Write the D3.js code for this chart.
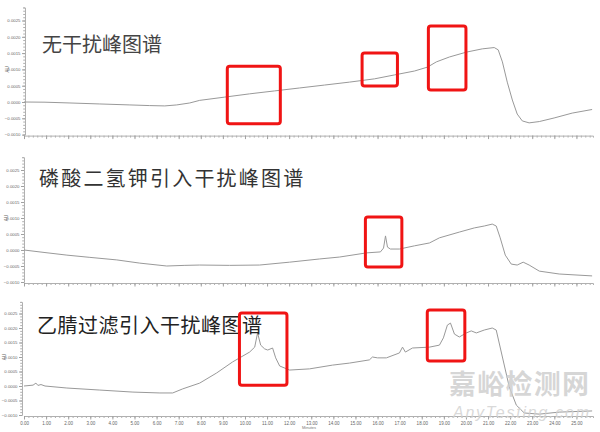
<!DOCTYPE html>
<html><head><meta charset="utf-8">
<script src="https://cdn.jsdelivr.net/npm/d3@7/dist/d3.min.js"></script>
<style>body{margin:0;background:#fff}svg{display:block}</style>
</head><body>
<script>
// ---- data ----
const titles = ["无干扰峰图谱", "磷酸二氢钾引入干扰峰图谱", "乙腈过滤引入干扰峰图谱"];
const xTicks = d3.range(0, 26, 1);
const yTicks = [-0.0010, -0.0005, 0.0000, 0.0005, 0.0010, 0.0015, 0.0020, 0.0025];

const t1 = [0,0.95,2.08,3.43,4.79,5.69,6.37,6.91,7.5,7.95,9.08,10.21,11.34,12.47,13.6,14.73,15.86,16.76,17.67,18.26,18.66,19.25,20.02,20.74,21.28,21.46,21.65,21.87,22.1,22.32,22.55,22.86,23.32,23.99,24.81,25.71];
const v1 = [0,-0.000006,-0.00003,-0.00006,-0.00009,-0.00011,-0.00012,-0.00009,-0.00003,0.00005,0.00015,0.00025,0.00034,0.00043,0.00052,0.00061,0.00071,0.00083,0.00095,0.00107,0.00123,0.00138,0.00153,0.00163,0.00167,0.0016,0.00123,0.00061,0.00006,-0.00037,-0.00058,-0.00064,-0.0006,-0.00049,-0.00034,-0.00023];

const t2 = [0,0.95,1.94,2.98,4.2,5.24,6.46,7.28,7.95,9.3,10.66,12.02,13.38,14.28,15.5,16.13,16.27,16.36,16.45,16.58,16.99,17.67,18.35,18.8,19.7,20.38,20.83,21.19,21.37,21.55,21.78,22.05,22.32,22.59,22.86,23.32,24.22,25.71];
const v2 = [0,-0.00008,-0.00016,-0.00023,-0.00031,-0.00041,-0.0005,-0.00048,-0.00047,-0.00048,-0.00047,-0.00038,-0.00028,-0.00022,-0.00009,-0.00006,0.00006,0.00044,0.00009,0.00003,0.00003,0.00013,0.00022,0.00038,0.00056,0.00069,0.00075,0.00081,0.00075,0.00038,-0.00016,-0.00044,-0.00047,-0.00038,-0.00047,-0.00066,-0.00075,-0.00081];

const t3 = [0,0.41,0.54,0.63,0.77,0.95,1.94,3.43,4.93,6.15,6.73,7.18,7.95,8.72,9.44,10.21,10.44,10.57,10.71,10.89,11.03,11.25,11.39,11.57,12.02,12.92,13.96,14.73,15.63,15.77,16.0,16.4,16.99,17.13,17.26,17.58,18.35,18.8,18.98,19.16,19.3,19.48,19.7,20.02,20.24,20.47,20.83,21.19,21.37,21.65,21.96,22.28,22.64,23.32,24.22,25.71];
const v3 = [0,0.00003,0.0001,0.00002,0.00005,0,-0.00007,-0.00014,-0.00021,-0.00024,-0.00024,-0.0001,0.0001,0.00045,0.00083,0.00117,0.00134,0.00183,0.00141,0.00128,0.00124,0.00131,0.00097,0.00069,0.00055,0.00059,0.00072,0.00079,0.0009,0.001,0.00097,0.00097,0.00114,0.00134,0.00117,0.00131,0.00134,0.00141,0.00166,0.0021,0.00217,0.00179,0.00169,0.00183,0.0019,0.00183,0.00193,0.002,0.00193,0.001,-0.00003,-0.00066,-0.00093,-0.00097,-0.0009,-0.00086];

// highlight boxes: [t0, t1, v0, v1] in data units per panel
const boxes1 = [[9.2,11.6,-0.00067,0.00110],[15.3,16.9,0.00049,0.00150],[18.3,20.0,0.00037,0.00233]];
const boxes2 = [[15.45,17.1,-0.00053,0.00103]];
const boxes3 = [[9.75,11.9,0.00003,0.00252],[18.25,19.95,0.00086,0.00262]];

// ---- layout ----
const W = 600, H = 432;
const svg = d3.select("body").append("svg").attr("width", W).attr("height", H);
const x = d3.scaleLinear().domain([0, 25.75]).range([24, 593]);

const panels = [
  {t:t1, v:v1, boxes:boxes1, zero:102, k:32600, title:titles[0], tx:42, ty:52, fs:20, ls:0, col:"#444", axisX:25, labels:false},
  {t:t2, v:v2, boxes:boxes2, zero:250, k:32000, title:titles[1], tx:39, ty:186, fs:20, ls:2.2, col:"#333", axisX:24, labels:false},
  {t:t3, v:v3, boxes:boxes3, zero:386, k:29000, title:titles[2], tx:37, ty:333, fs:20, ls:0.5, col:"#222", axisX:22, labels:true}
];

panels.forEach(p => {
  const y = d3.scaleLinear().domain([-0.001, 0.0029]).range([p.zero + 0.001*p.k, p.zero - 0.0029*p.k]);
  const g = svg.append("g");
  const yb = y(-0.001) + 1;

  g.append("g").attr("transform", `translate(0,${yb})`)
    .call(d3.axisBottom(x).tickValues(d3.range(0, 25.76, 0.2)).tickSize(2).tickFormat(""))
    .call(a => a.select(".domain").attr("stroke", "#b0b0b0"))
    .call(a => a.selectAll(".tick line").attr("stroke", "#b0b0b0"));
  g.append("g").attr("transform", `translate(0,${yb})`)
    .call(d3.axisBottom(x).tickValues(xTicks).tickSize(3.5).tickPadding(2)
      .tickFormat(p.labels ? d3.format(".2f") : ""))
    .call(a => a.select(".domain").remove())
    .call(a => a.selectAll(".tick line").attr("stroke", "#a0a0a0"))
    .call(a => a.selectAll("text").attr("font-size", 4.5).attr("fill", "#666").attr("font-family", "Arial, Liberation Sans, sans-serif"));

  g.append("g").attr("transform", `translate(${p.axisX},0)`)
    .call(d3.axisLeft(y).tickValues(d3.range(-0.001, 0.00291, 0.0001)).tickSize(1.8).tickFormat(""))
    .call(a => a.select(".domain").attr("stroke", "#b0b0b0"))
    .call(a => a.selectAll(".tick line").attr("stroke", "#b0b0b0"));
  g.append("g").attr("transform", `translate(${p.axisX},0)`)
    .call(d3.axisLeft(y).tickValues(yTicks).tickSize(3).tickPadding(1.5).tickFormat(d3.format(".4f")))
    .call(a => a.select(".domain").remove())
    .call(a => a.selectAll(".tick line").attr("stroke", "#a0a0a0"))
    .call(a => a.selectAll("text").attr("font-size", 4.3).attr("fill", "#666").attr("font-family", "Arial, Liberation Sans, sans-serif"));

  g.append("text").attr("transform", `translate(${p.axisX - 16},${y(0.001)}) rotate(-90)`)
    .attr("text-anchor", "middle").attr("font-size", 4.5).attr("fill", "#666")
    .attr("font-family", "Arial, sans-serif").text("AU");

  const pts = p.t.map((d, i) => [d, p.v[i]]);
  g.append("path").datum(pts)
    .attr("fill", "none").attr("stroke", "#999").attr("stroke-width", 1)
    .attr("stroke-linejoin", "round")
    .attr("d", d3.line().x(d => x(d[0])).y(d => y(d[1])));

  g.append("text").attr("x", p.tx).attr("y", p.ty)
    .attr("font-size", p.fs).attr("fill", p.col).attr("letter-spacing", p.ls)
    .attr("font-family", "'Noto Sans CJK SC', sans-serif").text(p.title);

  g.selectAll("rect.box").data(p.boxes).join("rect").attr("class", "box")
    .attr("x", d => x(d[0])).attr("y", d => y(d[3]))
    .attr("width", d => x(d[1]) - x(d[0])).attr("height", d => y(d[2]) - y(d[3]))
    .attr("rx", 2.5).attr("fill", "none").attr("stroke", "#f01414").attr("stroke-width", 3);

  if (p.labels) {
    g.append("text").attr("x", x(12.9)).attr("y", yb + 13).attr("text-anchor", "middle")
      .attr("font-size", 4).attr("fill", "#777").attr("font-family", "Arial, sans-serif").text("Minutes");
  }
});

// watermark
svg.append("text").attr("x", 449).attr("y", 394).attr("font-size", 27).attr("font-weight", "bold")
  .attr("fill", "#cfcfcf").attr("fill-opacity", 0.85).attr("textLength", 140)
  .attr("font-family", "'Noto Sans CJK SC', sans-serif").text("嘉峪检测网");
svg.append("text").attr("x", 453).attr("y", 418).attr("font-size", 16).attr("font-style", "italic")
  .attr("fill", "#d2d2d2").attr("fill-opacity", 0.85).attr("textLength", 136)
  .attr("font-family", "Arial, Liberation Sans, sans-serif").text("AnyTesting.com");
</script>
</body></html>
